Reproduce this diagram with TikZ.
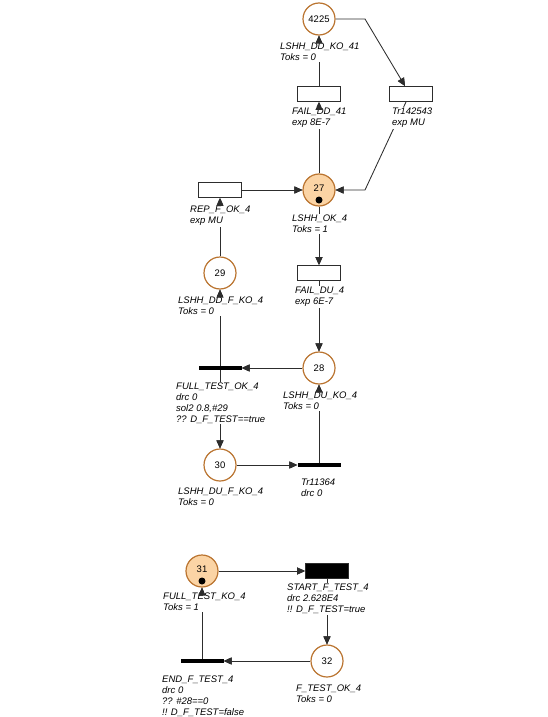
\documentclass[tikz,border=0pt]{standalone}
\usepackage{fontspec}
\setmainfont{Liberation Sans}
\usetikzlibrary{arrows.meta}
\definecolor{placecolor}{RGB}{186,116,48}
\definecolor{markedcolor}{RGB}{251,212,165}
\definecolor{arccolor}{RGB}{45,45,45}
\pgfdeclarelayer{arcs}
\pgfsetlayers{arcs,main}
\tikzset{
	place/.style={circle,draw=placecolor,line width=1.2pt,fill=white,minimum size=32pt,inner sep=0pt,font=\fontsize{9.5}{11}\selectfont},
	marked/.style={place,fill=markedcolor},
	tokendot/.style={circle,fill=black,minimum size=7pt,inner sep=0pt},
	trans/.style={rectangle,draw=arccolor,line width=0.9pt,fill=white,minimum width=43pt,minimum height=15pt,inner sep=0pt},
	bar/.style={rectangle,fill=black,minimum width=43pt,minimum height=4pt,inner sep=0pt},
	info/.style={anchor=north west,align=left,fill=white,inner sep=1pt,yshift=8pt,font=\itshape\fontsize{9.5}{10.8}\selectfont},
	arc/.style={draw=arccolor,line width=0.85pt,-{Triangle[length=8pt,width=7pt]}},
	tipsonly/.style={dash pattern=on 0pt off 2000pt}
}
\newcommand{\petriarc}[1]{%
	\begin{pgfonlayer}{arcs}\draw[arc] #1;\end{pgfonlayer}%
	\draw[arc,tipsonly] #1;}

\begin{document}
\begin{tikzpicture}[x=1pt,y=-1pt]
			\useasboundingbox (0,0) rectangle (547,717);
			%库所
			\node[place] (p4225) at (319,19) {4225};
			\node[marked] (p27) at (319,190) {};
			\node at ([yshift=2pt]p27.center) {\fontsize{9.5}{11}\selectfont 27};
			\node[tokendot] (k27) at ([yshift=-10pt]p27.center) {};
			\node[place] (p29) at (220,273) {29};
			\node[place] (p28) at (319,368) {28};
			\node[place] (p30) at (220,465) {30};
			\node[marked] (p31) at (202,571) {};
			\node at ([yshift=2pt]p31.center) {\fontsize{9.5}{11}\selectfont 31};
			\node[tokendot] (k31) at ([yshift=-10pt]p31.center) {};
			\node[place] (p32) at (327,661) {32};
			%变迁
			\node[trans] (tFAILDD) at (319,94) {};
			\node[trans] (tTr142543) at (411,94) {};
			\node[trans] (tREP) at (220,190) {};
			\node[trans] (tFAILDU) at (319,273) {};
			\node[bar] (tFULLOK) at (220,368) {};
			\node[bar] (tTr11364) at (319,465) {};
			\node[trans,fill=black] (tSTART) at (327,571) {};
			\node[bar] (tEND) at (202,661) {};
			%标签
			\node[info] (l4225) at (279,50) {LSHH\_DD\_KO\_41\\Toks = 0};
			\node[info] (lFAILDD) at (291,115) {FAIL\_DD\_41\\exp 8E-7};
			\node[info] (lTr142543) at (391,115) {Tr142543\\exp MU};
			\node[info] (lREP) at (189,213) {REP\_F\_OK\_4\\exp MU};
			\node[info] (l27) at (291,222) {LSHH\_OK\_4\\Toks = 1};
			\node[info] (l29) at (177,304) {LSHH\_DD\_F\_KO\_4\\Toks = 0};
			\node[info] (lFAILDU) at (294,294) {FAIL\_DU\_4\\exp 6E-7};
			\node[info] (lFULLOK) at (175,390) {FULL\_TEST\_OK\_4\\drc 0\\sol2 0.8,\#29\\?? D\_F\_TEST==true};
			\node[info] (l28) at (282,399) {LSHH\_DU\_KO\_4\\Toks = 0};
			\node[info] (l30) at (177,495) {LSHH\_DU\_F\_KO\_4\\Toks = 0};
			\node[info] (lTr11364) at (300,486) {Tr11364\\drc 0};
			\node[info] (l31) at (162,600) {FULL\_TEST\_KO\_4\\Toks = 1};
			\node[info] (lSTART) at (286,591) {START\_F\_TEST\_4\\drc 2.628E4\\!! D\_F\_TEST=true};
			\node[info] (l32) at (295,692) {F\_TEST\_OK\_4\\Toks = 0};
			\node[info] (lEND) at (161,683) {END\_F\_TEST\_4\\drc 0\\?? \#28==0\\!! D\_F\_TEST=false};
			%弧
			\coordinate (b1) at (365,19);
			\coordinate (b2) at (365,190);
			\petriarc{(p4225.east) -- (b1) -- ([xshift=-6pt]tTr142543.north)}
			\petriarc{([xshift=-5pt]tTr142543.south) -- (b2) -- (p27.east)}
			\petriarc{(p27.north) -- (tFAILDD.south)}
			\petriarc{(tFAILDD.north) -- (p4225.south)}
			\petriarc{(tREP.east) -- (p27.west)}
			\petriarc{(p29.north) -- (tREP.south)}
			\petriarc{(p27.south) -- (tFAILDU.north)}
			\petriarc{(tFAILDU.south) -- (p28.north)}
			\petriarc{(p28.west) -- (tFULLOK.east)}
			\petriarc{(tFULLOK.north) -- (p29.south)}
			\petriarc{(tFULLOK.south) -- (p30.north)}
			\petriarc{(p30.east) -- (tTr11364.west)}
			\petriarc{(tTr11364.north) -- (p28.south)}
			\petriarc{(p31.east) -- (tSTART.west)}
			\petriarc{(tSTART.south) -- (p32.north)}
			\petriarc{(p32.west) -- (tEND.east)}
			\petriarc{(tEND.north) -- (p31.south)}
		\end{tikzpicture}
\end{document}
